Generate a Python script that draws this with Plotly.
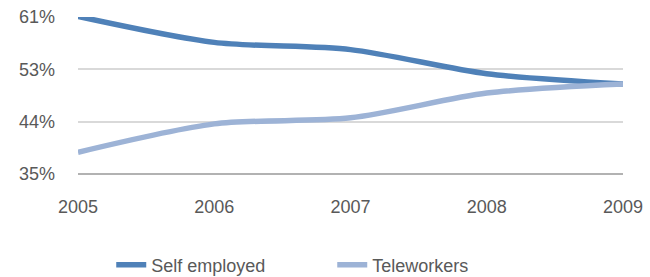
import plotly.graph_objects as go

years = [2005, 2006, 2007, 2008, 2009]
self_employed = [61.1, 56.8, 55.6, 51.6, 49.9]
teleworkers = [38.6, 43.3, 44.3, 48.4, 49.9]
y_tick_vals = [35, 43.667, 52.333, 61]
y_tick_text = ["35%", "44%", "53%", "61%"]

fig = go.Figure()
fig.add_trace(go.Scatter(x=years, y=self_employed, name="Self employed", mode="lines",
                         line=dict(color="#4F81B8", width=5.5, shape="spline", smoothing=0.8)))
fig.add_trace(go.Scatter(x=years, y=teleworkers, name="Teleworkers", mode="lines",
                         line=dict(color="#9DB3D6", width=5.5, shape="spline", smoothing=0.8)))

font = dict(family="Liberation Sans", size=18, color="#595959")
fig.update_layout(
    width=650, height=277,
    margin=dict(l=78, r=27, t=17, b=103, autoexpand=False),
    paper_bgcolor="white", plot_bgcolor="white",
    font=font,
    showlegend=True,
    legend=dict(orientation="h", x=0.061, xanchor="left", y=-0.58, yanchor="middle",
                font=font, traceorder="normal", entrywidth=176, entrywidthmode="pixels"),
    xaxis=dict(range=[2005, 2009], tickvals=years, ticktext=[str(y) for y in years],
               showgrid=False, zeroline=False, showline=False, ticks="",
               ticklabelstandoff=20, tickfont=font, automargin=False),
    yaxis=dict(range=[35, 61], tickvals=y_tick_vals, ticktext=y_tick_text,
               showgrid=True, gridcolor="#D9D9D9", gridwidth=1.5, zeroline=False,
               showline=False, ticks="", ticklabelstandoff=22, tickfont=font, automargin=False),
    shapes=[dict(type="line", xref="paper", yref="paper", x0=0, x1=1, y0=0, y1=0,
                 line=dict(color="#999999", width=1.5))],
)
fig.write_html("out.html", config={"displayModeBar": False},
               post_script="document.body.style.margin='0';document.body.style.overflow='hidden';")
